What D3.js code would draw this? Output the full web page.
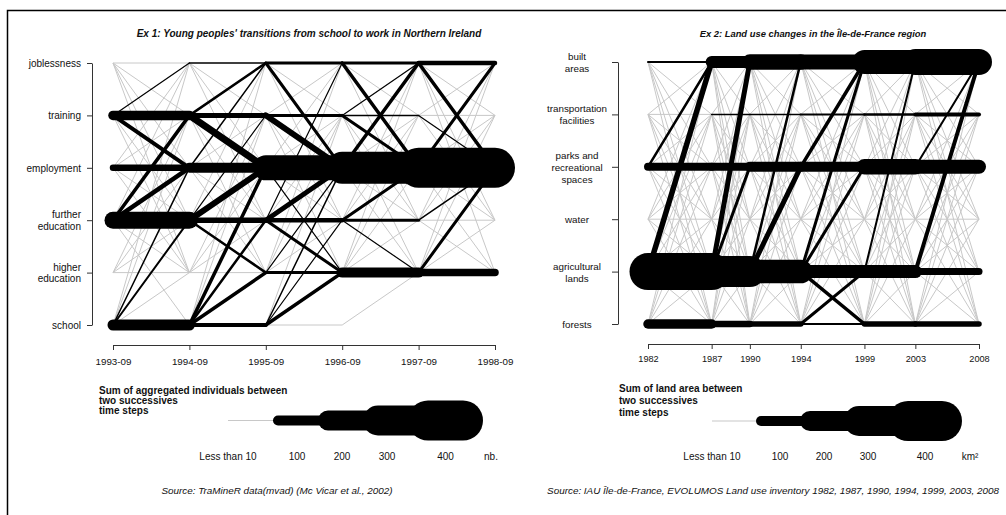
<!DOCTYPE html>
<html><head><meta charset="utf-8">
<script src="https://cdn.jsdelivr.net/npm/d3@7"></script>
<style>
body{margin:0;background:#fff}
svg{display:block}
text{font-family:"Liberation Sans",Arial,Helvetica,sans-serif;fill:#111}
</style>
</head><body>
<svg id="c" width="1006" height="515"></svg>
<script>
// ---------------- Example 1 data ----------------
const ex1Title = "Ex 1: Young peoples' transitions from school to work in Northern Ireland";
const ex1States = ["joblessness","training","employment","further\neducation","higher\neducation","school"];
const ex1Times = ["1993-09","1994-09","1995-09","1996-09","1997-09","1998-09"];
// transition matrices (row = from state, col = to state), order as ex1States
const ex1Flows9394 = [
  [3, 4, 5, 3, 2, 0],
  [12, 95, 40, 4, 2, 0],
  [5, 4, 65, 3, 2, 0],
  [4, 35, 45, 170, 5, 2],
  [0, 2, 2, 3, 4, 0],
  [3, 5, 15, 20, 4, 110]
];
const ex1Flows9495 = [
  [15, 3, 5, 2, 0, 0],
  [25, 50, 70, 3, 2, 0],
  [15, 5, 100, 3, 2, 0],
  [5, 12, 60, 55, 25, 0],
  [0, 2, 3, 2, 3, 0],
  [3, 5, 35, 25, 35, 40]
];
const ex1Flows9596 = [
  [30, 4, 30, 3, 0, 0],
  [5, 30, 60, 4, 2, 0],
  [5, 4, 250, 5, 12, 0],
  [12, 5, 50, 45, 30, 0],
  [2, 2, 12, 3, 30, 0],
  [0, 2, 15, 12, 35, 5]
];
const ex1Flows9697 = [
  [30, 3, 35, 2, 0, 0],
  [12, 15, 30, 3, 2, 0],
  [35, 5, 320, 5, 4, 0],
  [4, 3, 30, 30, 12, 0],
  [3, 2, 8, 3, 100, 0],
  [0, 0, 0, 0, 4, 0]
];
const ex1Flows9798 = [
  [45, 3, 35, 2, 2, 0],
  [5, 4, 12, 3, 0, 0],
  [30, 6, 400, 5, 4, 0],
  [3, 2, 15, 5, 3, 0],
  [3, 2, 30, 4, 75, 0],
  [0, 0, 0, 0, 0, 0]
];
const ex1Legend = ["Sum of aggregated individuals between","two successives","time steps"];
const ex1Unit = "nb.";
const ex1Source = "Source: TraMineR data(mvad) (Mc Vicar et al., 2002)";

// ---------------- Example 2 data ----------------
const ex2Title = "Ex 2: Land use changes in the Île-de-France region";
const ex2States = ["built\nareas","transportation\nfacilities","parks and\nrecreational\nspaces","water","agricultural\nlands","forests"];
const ex2Years = [1982, 1987, 1990, 1994, 1999, 2003, 2008];
const ex2Flows8287 = [
  [20, 4, 3, 2, 3, 2],
  [4, 5, 3, 2, 3, 2],
  [25, 3, 80, 2, 3, 3],
  [3, 2, 3, 4, 3, 2],
  [55, 4, 5, 3, 370, 4],
  [3, 2, 3, 2, 4, 95]
];
const ex2Flows8790 = [
  [120, 4, 3, 2, 3, 2],
  [3, 15, 3, 2, 3, 2],
  [4, 3, 80, 2, 3, 3],
  [2, 2, 3, 4, 3, 2],
  [50, 4, 30, 3, 310, 4],
  [3, 2, 3, 2, 4, 65]
];
const ex2Flows9094 = [
  [155, 4, 3, 2, 3, 2],
  [3, 15, 3, 2, 3, 2],
  [4, 3, 100, 2, 3, 3],
  [2, 2, 3, 4, 3, 2],
  [25, 4, 50, 3, 235, 4],
  [3, 2, 3, 2, 4, 55]
];
const ex2Flows9499 = [
  [150, 4, 3, 2, 3, 2],
  [3, 20, 3, 2, 3, 2],
  [35, 3, 100, 2, 3, 3],
  [2, 2, 3, 4, 3, 2],
  [30, 4, 30, 3, 130, 35],
  [3, 2, 3, 2, 30, 20]
];
const ex2Flows9903 = [
  [240, 4, 3, 2, 3, 2],
  [3, 25, 3, 2, 3, 2],
  [4, 3, 155, 2, 3, 3],
  [2, 2, 3, 4, 3, 2],
  [20, 4, 5, 3, 130, 4],
  [3, 2, 3, 2, 4, 55]
];
const ex2Flows0308 = [
  [260, 4, 3, 2, 3, 2],
  [3, 40, 3, 2, 3, 2],
  [20, 3, 140, 2, 3, 3],
  [2, 2, 3, 4, 3, 2],
  [40, 4, 5, 3, 70, 4],
  [3, 2, 3, 2, 4, 55]
];
const ex2Legend = ["Sum of land area between","two successives","time steps"];
const ex2Unit = "km²";
const ex2Source = "Source: IAU Île-de-France, EVOLUMOS Land use inventory 1982, 1987, 1990, 1994, 1999, 2003, 2008";

// legend
const legendValues = [100, 200, 300, 400];
const legendMinLabel = "Less than 10";
const minorThreshold = 10;

// ---------------- drawing ----------------
const svg = d3.select("#c");
const W = d3.scaleLinear().domain([0, 400]).range([0, 40]);
const FONT = '"Liberation Sans",Arial,Helvetica,sans-serif';
const GREY = "#c8c8c8";

// frame
svg.append("path").attr("d", "M7.5,515V10.5H1006").attr("fill","none").attr("stroke","#000").attr("stroke-width",1.5);

function drawFlows(g, flows, x, y, times, states) {
  const links = [];
  flows.forEach((m, t) => m.forEach((row, i) => row.forEach((v, j) => {
    if (v > 0) links.push({t, i, j, v});
  })));
  const minor = links.filter(d => d.v < minorThreshold);
  const major = links.filter(d => d.v >= minorThreshold).sort((a, b) => a.v - b.v);
  const pos = sel => sel
    .attr("x1", d => x(times[d.t])).attr("y1", d => y(states[d.i]))
    .attr("x2", d => x(times[d.t + 1])).attr("y2", d => y(states[d.j]));
  g.append("g").selectAll("line").data(minor).join("line").call(pos)
    .attr("stroke", GREY).attr("stroke-width", 1);
  g.append("g").selectAll("line").data(major).join("line").call(pos)
    .attr("stroke", "#000").attr("stroke-width", d => W(d.v)).attr("stroke-linecap", "round");
}

function multiLabel(sel, lh) {
  sel.each(function(d) {
    const t = d3.select(this);
    const lines = d.split("\n");
    t.text(null);
    lines.forEach((l, k) => {
      t.append("tspan").attr("x", t.attr("x")).attr("dy", k === 0 ? ((-(lines.length - 1) / 2) * lh + 3.5) : lh).text(l);
    });
  });
}

function drawLegend(g, b0, step, yc, title, unit, titleX, titleY, titleLH) {
  const bx = d3.scaleLinear().domain([0, 5]).range([b0, b0 + 5 * step]);
  g.append("g").selectAll("text").data(title).join("text")
    .attr("x", titleX).attr("y", (d, i) => titleY + i * titleLH)
    .attr("font-size", 10).attr("font-weight", "bold").text(d => d);
  g.append("line").attr("x1", bx(0)).attr("x2", bx(1)).attr("y1", yc).attr("y2", yc)
    .attr("stroke", GREY).attr("stroke-width", 1.2);
  const segs = legendValues.map((v, k) => ({v, k: k + 1, w: W(v)}));
  g.append("g").selectAll("line").data(segs).join("line")
    .attr("x1", d => bx(d.k) + d.w / 2)
    .attr("x2", d => bx(d.k + 1) + d.w / 4)
    .attr("y1", yc).attr("y2", yc)
    .attr("stroke", "#000").attr("stroke-width", d => d.w).attr("stroke-linecap", "round");
  const ly = yc + 39;
  g.append("text").attr("x", bx(0)).attr("y", ly).attr("text-anchor", "middle").attr("font-size", 10).text(legendMinLabel);
  g.append("g").selectAll("text").data(segs).join("text")
    .attr("x", d => d.k < 4 ? bx(d.k) + 24 : (bx(d.k) + bx(d.k + 1) + d.w / 4 + d.w / 2) / 2)
    .attr("y", ly).attr("text-anchor", "middle").attr("font-size", 10).text(d => d.v);
  g.append("text").attr("x", bx(5) + 38).attr("y", ly).attr("text-anchor", "middle").attr("font-size", 10).text(unit);
}

// ---------- Example 1 ----------
{
  const g = svg.append("g");
  const x = d3.scalePoint().domain(ex1Times).range([113, 495]);
  const y = d3.scalePoint().domain(ex1States).range([63, 325]);
  g.append("text").attr("x", 309).attr("y", 36.5).attr("text-anchor", "middle")
    .attr("font-size", 10).attr("font-weight", "bold").attr("font-style", "italic").text(ex1Title);
  drawFlows(g, [ex1Flows9394, ex1Flows9495, ex1Flows9596, ex1Flows9697, ex1Flows9798], x, y, ex1Times, ex1States);
  const ya = g.append("g").attr("transform", "translate(92,0)")
    .call(d3.axisLeft(y).tickSize(5).tickSizeOuter(0).tickPadding(6));
  ya.select(".domain").attr("stroke", "#333");
  ya.selectAll(".tick line").attr("stroke", "#333");
  ya.selectAll(".tick text").attr("font-size", 10).attr("font-family", FONT).attr("fill", "#111")
    .attr("dy", null).attr("y", 0).call(multiLabel, 11.5);
  const xa = g.append("g").attr("transform", "translate(0,345)")
    .call(d3.axisBottom(x).tickSize(5).tickSizeOuter(0).tickPadding(8));
  xa.select(".domain").attr("stroke", "#333");
  xa.selectAll(".tick line").attr("stroke", "#333");
  xa.selectAll(".tick text").attr("font-size", 9.8).attr("font-family", FONT).attr("fill", "#111");
  drawLegend(g, 228, 45, 420.5, ex1Legend, ex1Unit, 99, 393.5, 10);
  g.append("text").attr("x", 277).attr("y", 494).attr("text-anchor", "middle")
    .attr("font-size", 9.9).attr("font-style", "italic").text(ex1Source);
}

// ---------- Example 2 ----------
{
  const g = svg.append("g");
  const x = d3.scaleLinear().domain([1982, 2008]).range([648, 979]);
  const y = d3.scalePoint().domain(ex2States).range([62, 324]);
  g.append("text").attr("x", 813).attr("y", 36.5).attr("text-anchor", "middle")
    .attr("font-size", 9.4).attr("font-weight", "bold").attr("font-style", "italic").text(ex2Title);
  drawFlows(g, [ex2Flows8287, ex2Flows8790, ex2Flows9094, ex2Flows9499, ex2Flows9903, ex2Flows0308], x, y, ex2Years, ex2States);
  const ya = g.append("g").attr("transform", "translate(618,0)")
    .call(d3.axisLeft(y).tickSize(6).tickSizeOuter(0).tickPadding(6));
  ya.select(".domain").attr("stroke", "#333");
  ya.selectAll(".tick line").attr("stroke", "#333");
  ya.selectAll(".tick text").attr("font-size", 9.8).attr("font-family", FONT).attr("fill", "#111")
    .attr("text-anchor", "middle").attr("x", -41).attr("dy", null).attr("y", 0).call(multiLabel, 12);
  const xa = g.append("g").attr("transform", "translate(0,344)")
    .call(d3.axisBottom(x).tickValues(ex2Years).tickFormat(d3.format("d")).tickSize(5).tickSizeOuter(0).tickPadding(6));
  xa.select(".domain").attr("stroke", "#333");
  xa.selectAll(".tick line").attr("stroke", "#333");
  xa.selectAll(".tick text").attr("font-size", 9.2).attr("font-family", FONT).attr("fill", "#111");
  drawLegend(g, 712, 44, 421, ex2Legend, ex2Unit, 619, 392, 12);
  g.append("text").attr("x", 773).attr("y", 494).attr("text-anchor", "middle")
    .attr("font-size", 9.9).attr("font-style", "italic").text(ex2Source);
}
</script>
</body></html>
